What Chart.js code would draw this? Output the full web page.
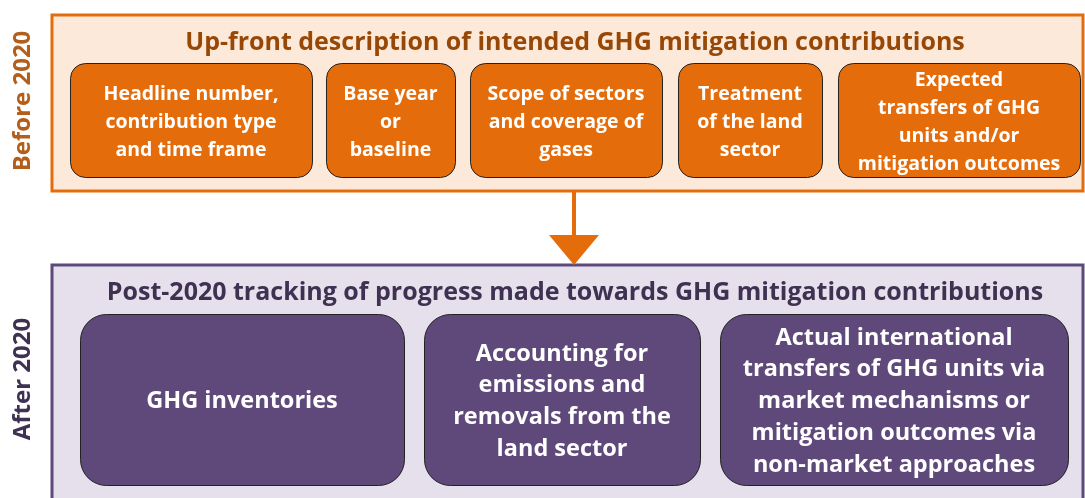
<!DOCTYPE html>
<html>
<head>
<meta charset="utf-8">
<script src="https://cdn.jsdelivr.net/npm/chart.js@4"></script>
<style>
  html, body { margin: 0; padding: 0; background: #fff; }
  canvas { display: block; }
</style>
</head>
<body>
<canvas id="diagram" width="1085" height="498"></canvas>
<script>
// Text content of the diagram
const phaseLabels = ["Before 2020", "After 2020"];
const panelTitles = [
  "Up-front description of intended GHG mitigation contributions",
  "Post-2020 tracking of progress made towards GHG mitigation contributions"
];
const beforeItems = [
  ["Headline number,", "contribution type", "and time frame"],
  ["Base year", "or", "baseline"],
  ["Scope of sectors", "and coverage of", "gases"],
  ["Treatment", "of the land", "sector"],
  ["Expected", "transfers of GHG", "units and/or", "mitigation outcomes"]
];
const afterItems = [
  ["GHG inventories"],
  ["Accounting for", "emissions and", "removals from the", "land sector"],
  ["Actual international", "transfers of GHG units via", "market mechanisms or", "mitigation outcomes via", "non-market approaches"]
];

// Layout (scale units == pixels of the 1085x498 frame)
const panels = [
  { x0: 52, x1: 1083, y0: 15, y1: 191, fill: '#fde9d9', stroke: '#e46c0a', title: '#984806', titleY: 43, label: '#b35e1a', labelY: 101 },
  { x0: 52, x1: 1083, y0: 265, y1: 502, fill: '#e5e0ec', stroke: '#5f497a', title: '#3f3151', titleY: 293, label: '#3f3151', labelY: 379 }
];
const beforeBoxes = [[70, 312], [326, 455], [470, 662], [678, 822], [838, 1080]];
const afterBoxes = [[80, 404], [424, 700], [720, 1068]];
const FONT = '"Open Sans", "Lato", sans-serif';

function rrect(ctx, x, y, w, h, r) {
  ctx.beginPath();
  ctx.moveTo(x + r, y);
  ctx.arcTo(x + w, y, x + w, y + h, r);
  ctx.arcTo(x + w, y + h, x, y + h, r);
  ctx.arcTo(x, y + h, x, y, r);
  ctx.arcTo(x, y, x + w, y, r);
  ctx.closePath();
}

const diagramPlugin = {
  id: 'diagram',
  afterDraw(chart) {
    const ctx = chart.ctx;
    const sx = v => chart.scales.x.getPixelForValue(v);
    const sy = v => chart.scales.y.getPixelForValue(v);
    ctx.save();
    ctx.textAlign = 'center';
    ctx.textBaseline = 'middle';

    panels.forEach((p, i) => {
      ctx.fillStyle = p.fill;
      ctx.fillRect(sx(p.x0), sy(p.y0), sx(p.x1) - sx(p.x0), sy(p.y1) - sy(p.y0));
      ctx.strokeStyle = p.stroke;
      ctx.lineWidth = 3;
      ctx.strokeRect(sx(p.x0), sy(p.y0), sx(p.x1) - sx(p.x0), sy(p.y1) - sy(p.y0));
      ctx.fillStyle = p.title;
      ctx.font = 'bold 25px ' + FONT;
      ctx.fillText(panelTitles[i], sx(575), sy(p.titleY));
      // rotated phase label
      ctx.save();
      ctx.translate(sx(23), sy(p.labelY));
      ctx.rotate(-Math.PI / 2);
      ctx.fillStyle = p.label;
      ctx.font = 'bold 24px ' + FONT;
      ctx.fillText(phaseLabels[i], 0, 0);
      ctx.restore();
    });

    // arrow between panels
    ctx.fillStyle = '#e46c0a';
    ctx.fillRect(sx(572), sy(191), 4, sy(236) - sy(191));
    ctx.beginPath();
    ctx.moveTo(sx(549), sy(235));
    ctx.lineTo(sx(599), sy(235));
    ctx.lineTo(sx(574), sy(265));
    ctx.closePath();
    ctx.fill();

    const drawBoxes = (boxes, items, y0, y1, fill, radius, fontSize, lineH) => {
      boxes.forEach((b, i) => {
        const x = sx(b[0]), w = sx(b[1]) - sx(b[0]);
        const y = sy(y0), h = sy(y1) - sy(y0);
        rrect(ctx, x + 0.5, y + 0.5, w, h, radius);
        ctx.fillStyle = fill;
        ctx.fill();
        ctx.strokeStyle = '#222';
        ctx.lineWidth = 1;
        ctx.stroke();
        ctx.fillStyle = '#ffffff';
        ctx.font = 'bold ' + fontSize + 'px ' + FONT;
        const lines = items[i];
        const cy = y + h / 2 + 2;
        lines.forEach((t, k) => {
          ctx.fillText(t, x + w / 2, cy + (k - (lines.length - 1) / 2) * lineH);
        });
      });
    };
    drawBoxes(beforeBoxes, beforeItems, 63, 177, '#e46c0a', 15, 19.5, 28);
    drawBoxes(afterBoxes, afterItems, 314, 485, '#5f497a', 26, 23.5, 31.75);
    ctx.restore();
  }
};

new Chart(document.getElementById('diagram'), {
  type: 'scatter',
  data: { datasets: [{ data: [], showLine: false }] },
  options: {
    responsive: false,
    devicePixelRatio: 1,
    animation: false,
    layout: { padding: 0 },
    plugins: { legend: { display: false }, tooltip: { enabled: false } },
    scales: {
      x: { type: 'linear', min: 0, max: 1085, display: false },
      y: { type: 'linear', min: 0, max: 498, reverse: true, display: false }
    }
  },
  plugins: [diagramPlugin]
});
</script>
</body>
</html>
